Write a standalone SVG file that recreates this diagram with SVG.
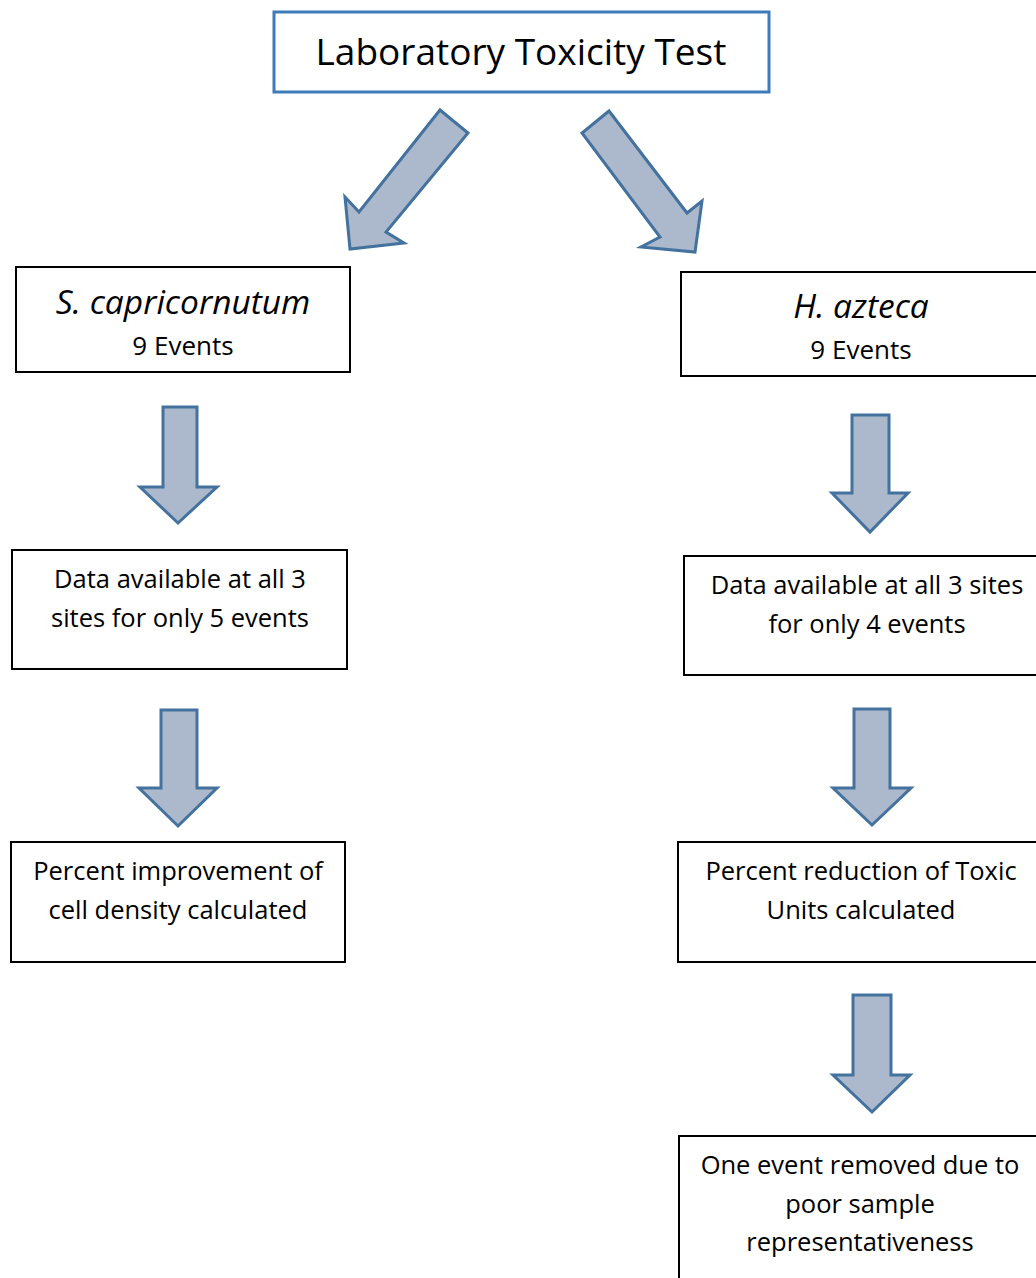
<svg xmlns="http://www.w3.org/2000/svg" width="1036" height="1278" viewBox="0 0 1036 1278">
<style>
.box{fill:#fff;stroke:#000;stroke-width:2}
.top{fill:#fff;stroke:#3d7bbd;stroke-width:3}
.arr{fill:#acb8cb;stroke:#44729e;stroke-width:3;stroke-linejoin:miter}
text{font-family:"Open Sans","Noto Sans",sans-serif;fill:#000;text-anchor:middle}
.b{font-size:25.5px}
.e{font-size:26px}
.t{font-size:37px}
.i{font-size:33.5px;font-style:italic}
</style>
<rect width="1036" height="1278" fill="#fff"/>
<g id="connectors">
<polygon class="arr" points="440,110 468,133 386,232 404,243 350,249 345,197 359,212"/>
<polygon class="arr" points="609,111 687,213 702,201 695,252 641,247 660,237 582,133"/>
<polygon class="arr" points="163,407 197,407 197,487 217,487 178,523 140,487 163,487"/>
<polygon class="arr" points="852,415 889,415 889,493 908,493 870,532 832,493 852,493"/>
<polygon class="arr" points="161,710 197,710 197,788 217,788 178,826 139,788 161,788"/>
<polygon class="arr" points="854,709 890,709 890,788 911,788 872,825 833,788 854,788"/>
<polygon class="arr" points="853,995 891,995 891,1075 910,1075 872,1112 833,1075 853,1075"/>
</g>
<g id="top">
<rect class="top" x="274" y="12" width="495" height="80"/>
<text class="t" x="521" y="65">Laboratory Toxicity Test</text>
</g>
<g id="s-cap">
<rect class="box" x="16" y="267" width="334" height="105"/>
<text class="i" x="183" y="314">S. capricornutum</text>
<text class="e" x="183" y="355">9 Events</text>
</g>
<g id="h-az">
<rect class="box" x="681" y="272" width="360" height="104"/>
<text class="i" x="861" y="318">H. azteca</text>
<text class="e" x="861" y="359">9 Events</text>
</g>
<g id="s-data">
<rect class="box" x="12" y="550" width="335" height="119"/>
<text class="b" x="180" y="588">Data available at all 3</text>
<text class="b" x="180" y="627">sites for only 5 events</text>
</g>
<g id="h-data">
<rect class="box" x="684" y="556" width="360" height="119"/>
<text class="b" x="867" y="594">Data available at all 3 sites</text>
<text class="b" x="867" y="633">for only 4 events</text>
</g>
<g id="s-result">
<rect class="box" x="11" y="842" width="334" height="120"/>
<text class="b" x="178" y="880">Percent improvement of</text>
<text class="b" x="178" y="919">cell density calculated</text>
</g>
<g id="h-result">
<rect class="box" x="678" y="842" width="365" height="120"/>
<text class="b" x="861" y="880">Percent reduction of Toxic</text>
<text class="b" x="861" y="919">Units calculated</text>
</g>
<g id="h-removed">
<rect class="box" x="679" y="1136" width="365" height="160"/>
<text class="b" x="860" y="1174">One event removed due to</text>
<text class="b" x="860" y="1213">poor sample</text>
<text class="b" x="860" y="1251">representativeness</text>
</g>
</svg>
